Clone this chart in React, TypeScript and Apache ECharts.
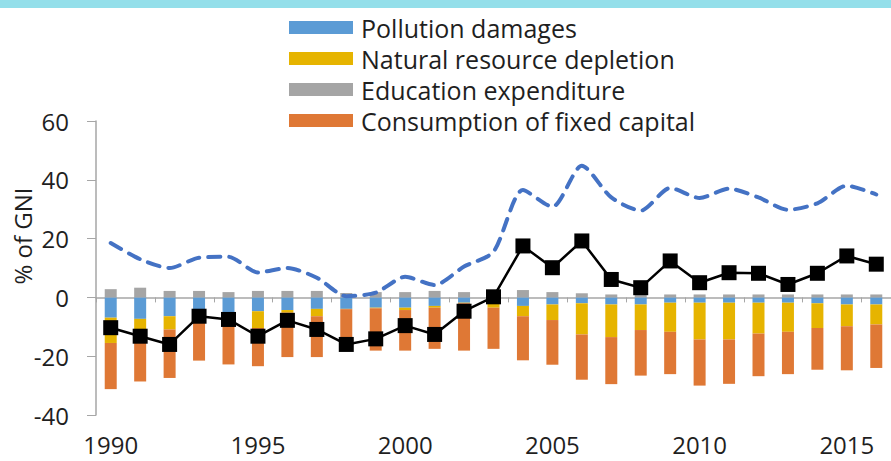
import React, { useEffect, useRef } from "react";
import * as echarts from "echarts";

const years = [
  "1990", "1991", "1992", "1993", "1994", "1995", "1996", "1997", "1998", "1999",
  "2000", "2001", "2002", "2003", "2004", "2005", "2006", "2007", "2008", "2009",
  "2010", "2011", "2012", "2013", "2014", "2015", "2016",
];

const pollutionDamages = [
  -6.9, -7.3, -6.4, -4.1, -5.2, -4.7, -4.3, -3.9, -3.9, -3.5,
  -3.5, -2.9, -1.8, -1.3, -2.9, -2.4, -2.0, -2.4, -2.4, -1.8,
  -1.8, -1.8, -1.8, -1.8, -2.0, -2.4, -2.4,
];

const naturalResourceDepletion = [
  -8.6, -4.2, -4.5, -0.9, -0.8, -5.7, -0.9, -2.5, -0.1, -0.2,
  -0.8, -0.6, -0.2, -2.2, -3.5, -5.3, -10.6, -11.1, -8.7, -9.9,
  -12.5, -12.5, -10.5, -9.9, -8.4, -7.4, -6.8,
];

const educationExpenditure = [
  2.8, 3.3, 2.2, 2.2, 1.8, 2.2, 2.2, 2.2, 1.5, 1.8,
  1.8, 2.2, 1.8, 1.8, 2.5, 1.8, 1.4, 1.0, 1.0, 1.0,
  1.0, 1.0, 1.0, 1.0, 1.0, 1.0, 1.0,
];

const consumptionOfFixedCapital = [
  -15.7, -17.1, -16.5, -16.5, -16.8, -13.0, -15.1, -13.9, -13.6, -14.4,
  -13.8, -14.0, -16.1, -14.0, -15.0, -15.2, -15.4, -16.0, -15.5, -14.4,
  -15.7, -15.1, -14.5, -14.4, -14.2, -15.0, -14.8,
];

const grossSavings = [
  18.5, 13.0, 10.0, 13.5, 13.8, 8.5, 10.0, 6.7, 0.4, 1.6,
  7.0, 4.2, 10.5, 15.5, 36.5, 30.8, 44.8, 34.0, 29.5, 37.2,
  33.8, 37.0, 34.0, 29.8, 32.0, 38.0, 35.0,
];

const adjustedNetSavings = [
  -10.3, -13.2, -16.0, -6.4, -7.5, -13.2, -7.8, -10.9, -16.0, -14.1,
  -9.6, -12.6, -4.7, 0.2, 17.5, 10.1, 19.2, 6.1, 3.3, 12.4,
  5.0, 8.4, 8.2, 4.4, 8.2, 14.1, 11.3,
];

const yTicks = { min: -40, max: 60, interval: 20 };

const FONT = "'Open Sans', 'Noto Sans', sans-serif";
const TEXT = "#1f1f1f";
const AXIS = "#a6a6a6";

export default function App() {
  const ref = useRef<HTMLDivElement>(null);

  useEffect(() => {
    if (!ref.current) return;
    const chart = echarts.init(ref.current, null, { renderer: "svg" });
    const barBase = {
      type: "bar",
      stack: "total",
      barWidth: 12,
      xAxisIndex: 1,
      yAxisIndex: 0,
    };
    chart.setOption({
      animation: false,
      textStyle: { fontFamily: FONT },
      grid: { left: 96, top: 121, width: 798, bottom: 46, containLabel: false },
      legend: {
        data: [
          "Pollution damages",
          "Natural resource depletion",
          "Education expenditure",
          "Consumption of fixed capital",
        ],
        orient: "vertical",
        left: 284,
        top: 10,
        itemWidth: 64,
        itemHeight: 13,
        itemGap: 6,
        icon: "rect",
        selectedMode: false,
        textStyle: { fontFamily: FONT, fontSize: 25, color: TEXT, padding: [0, 0, 0, 3] },
      },
      xAxis: [
        {
          type: "category",
          data: years,
          position: "bottom",
          axisLine: { show: true, onZero: true, onZeroAxisIndex: 0, lineStyle: { color: AXIS, width: 1.5 } },
          axisTick: { show: true, length: 5, lineStyle: { color: AXIS } },
          axisLabel: { show: false },
          splitLine: { show: false },
        },
        {
          type: "category",
          data: years,
          position: "bottom",
          axisLine: { show: false, onZero: false },
          axisTick: { show: false },
          axisLabel: {
            show: true,
            interval: 4,
            margin: 17,
            fontFamily: FONT,
            fontSize: 24,
            color: TEXT,
          },
          splitLine: { show: false },
        },
      ],
      yAxis: [
        {
          type: "value",
          min: yTicks.min,
          max: yTicks.max,
          interval: yTicks.interval,
          axisLine: { show: true, lineStyle: { color: AXIS, width: 1.5 } },
          axisTick: { show: true, length: 9, lineStyle: { color: AXIS } },
          axisLabel: { margin: 27, fontFamily: FONT, fontSize: 24, color: TEXT },
          splitLine: { show: false },
        },
      ],
      graphic: [
        {
          type: "rect",
          left: 0,
          top: 0,
          shape: { width: 891, height: 8 },
          style: { fill: "#94dfea" },
          silent: true,
        },
        {
          type: "text",
          x: 22,
          y: 236,
          rotation: Math.PI / 2,
          style: {
            text: "% of GNI",
            fontFamily: FONT,
            fontSize: 24,
            fill: TEXT,
            textAlign: "center",
            textVerticalAlign: "middle",
          },
        },
      ],
      series: [
        { ...barBase, name: "Pollution damages", data: pollutionDamages, itemStyle: { color: "#5b9bd5" } },
        { ...barBase, name: "Natural resource depletion", data: naturalResourceDepletion, itemStyle: { color: "#e6b400" } },
        { ...barBase, name: "Education expenditure", data: educationExpenditure, itemStyle: { color: "#a5a5a5" } },
        { ...barBase, name: "Consumption of fixed capital", data: consumptionOfFixedCapital, itemStyle: { color: "#df7835" } },
        {
          type: "line",
          name: "Gross savings",
          xAxisIndex: 1,
          data: grossSavings,
          smooth: 0.25,
          showSymbol: false,
          symbol: "none",
          lineStyle: { color: "#4472c4", width: 4, type: [12, 9], cap: "round" },
          z: 3,
        },
        {
          type: "line",
          name: "Adjusted net savings",
          xAxisIndex: 1,
          data: adjustedNetSavings,
          symbol: "rect",
          symbolSize: 15,
          itemStyle: { color: "#000000" },
          lineStyle: { color: "#000000", width: 2.5 },
          z: 4,
        },
      ],
    });
    return () => chart.dispose();
  }, []);

  return (
    <div
      ref={ref}
      style={{ position: "absolute", left: 0, top: 0, width: 891, height: 461, background: "#ffffff" }}
    />
  );
}
